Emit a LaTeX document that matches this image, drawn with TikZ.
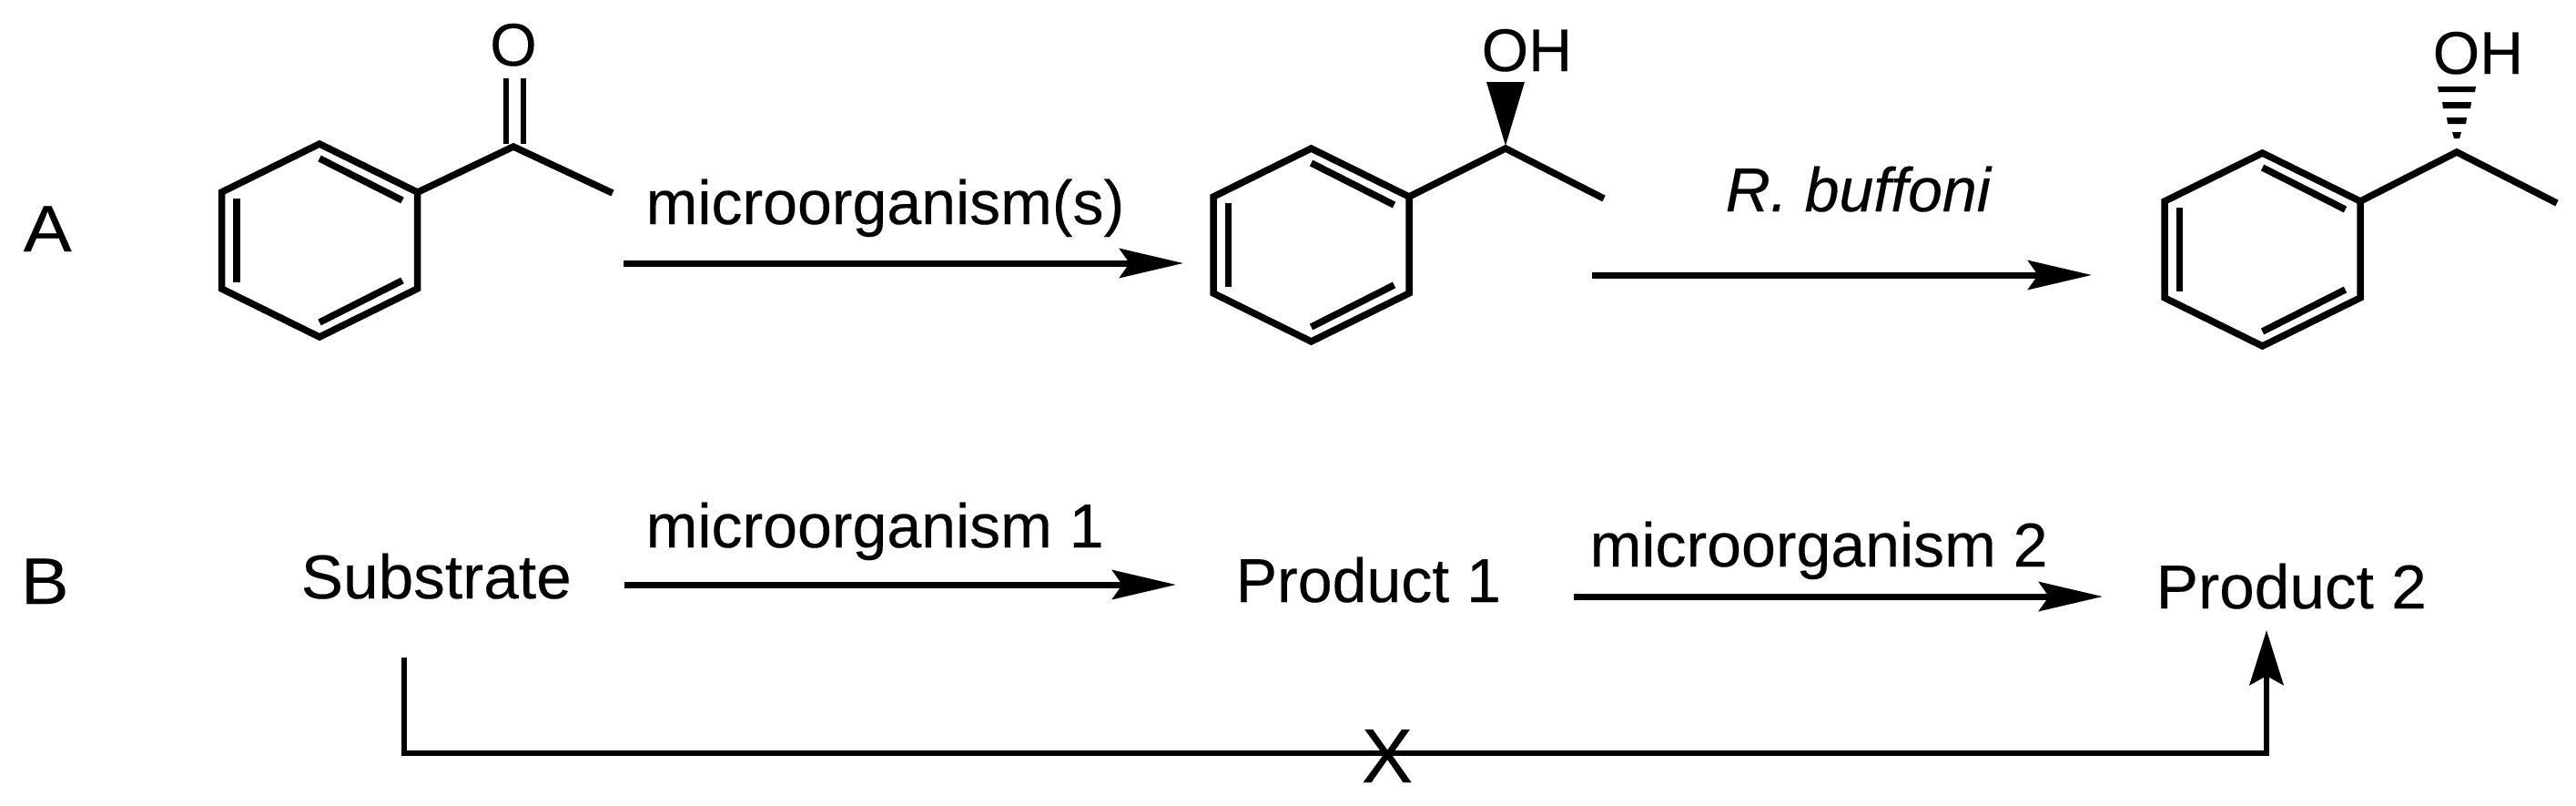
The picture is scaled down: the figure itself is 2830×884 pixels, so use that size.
\documentclass[tikz,border=0pt]{standalone}
\usepackage{fontspec}
\setmainfont{Liberation Sans}[FakeBold=0.25]
\usetikzlibrary{arrows.meta}
\newcommand{\benzene}[2]{%
  \begin{scope}[shift={(#1,#2)}]
    \draw[bond] (0,-106) -- (107.5,-53) -- (107.5,53) -- (0,106) -- (-107.5,53) -- (-107.5,-53) -- cycle;
    \draw[bond] (0,-90) -- (91,-44);
    \draw[bond] (91,44) -- (0,90);
    \draw[bond] (-91,-46) -- (-91,46);
  \end{scope}}
\tikzset{
  bond/.style={line width=0.075cm,line join=miter,line cap=butt,black},
  lbl/.style={font=\fontsize{19.35}{22}\selectfont,inner sep=0pt,anchor=base west,text=black},
  panel/.style={font=\fontsize{20.5}{24}\selectfont,inner sep=0pt,anchor=base west,text=black,xscale=1.1},
  atomlbl/.style={font=\fontsize{18.8}{22}\selectfont,inner sep=0pt,anchor=base west,text=black},
  crosslbl/.style={font=\fontsize{23.9}{26}\selectfont,inner sep=0pt,anchor=base,text=black},
  rxn/.style={line width=0.07cm,line cap=butt,black,-{Stealth[length=0.70cm,width=0.32cm,inset=0.11cm]}},
  blocked/.style={line width=0.065cm,line cap=butt,line join=miter,black,-{Stealth[length=0.60cm,width=0.37cm,inset=0.10cm]}}
}
\begin{document}
\begin{tikzpicture}[x=0.01cm,y=-0.01cm]
\useasboundingbox (0,0) rectangle (2830,884);
% panel labels
\node[panel] (A) at (25,276) {A};
\node[panel] (B) at (22,663) {B};
% scheme A, molecule 1
\benzene{351}{264}
\coordinate (c1) at (564,161);
\coordinate (r1) at (459,211);
\coordinate (m1) at (673,212);
\draw[bond] (r1) -- (c1) -- (m1);
\draw[line width=0.06cm] (556,86) -- (556,158);
\draw[line width=0.06cm] (575,86) -- (575,158);
\node[atomlbl,anchor=base] (O1) at (564,72) {O};
% arrow 1
\node[lbl] (t1) at (709,246) {microorganism(s)};
\coordinate (a1s) at (685,289);
\coordinate (a1e) at (1300,289);
\draw[rxn] (a1s) -- (a1e);
% molecule 2
\benzene{1440.5}{269}
\coordinate (c2) at (1654,163);
\coordinate (r2) at (1548,216);
\coordinate (m2) at (1762,218);
\draw[bond] (r2) -- (c2) -- (m2);
\fill (1654,160) -- (1633,90) -- (1675,90) -- cycle;
\node[atomlbl] (O2) at (1627,78) {OH};
% arrow 2
\node[lbl] (t2) at (1895,232) {\itshape R. buffoni};
\coordinate (a2s) at (1749,302);
\coordinate (a2e) at (2298,302);
\draw[rxn] (a2s) -- (a2e);
% molecule 3
\benzene{2485.5}{274}
\coordinate (c3) at (2699,167);
\coordinate (r3) at (2593,221);
\coordinate (m3) at (2809,223);
\draw[bond] (r3) -- (c3) -- (m3);
\fill (2678,95) -- (2720,95) -- (2719,101) -- (2679,101) -- cycle;
\fill (2683,112) -- (2715,112) -- (2714,119) -- (2684,119) -- cycle;
\fill (2688,129) -- (2710,129) -- (2709,136) -- (2689,136) -- cycle;
\fill (2694,145) -- (2704,145) -- (2702,152) -- (2696,152) -- cycle;
\node[atomlbl] (O3) at (2672,81) {OH};
% scheme B
\node[lbl,xscale=1.02] (sub) at (330,657) {Substrate};
\node[lbl] (p1) at (1357,661) {Product 1};
\node[lbl,xscale=1.02] (p2) at (2368,668) {Product 2};
\node[lbl] (t3) at (709,601) {microorganism 1};
\node[lbl] (t4) at (1746,622) {microorganism 2};
\coordinate (b1s) at (686,642);
\coordinate (b1e) at (1292,642);
\draw[rxn] (b1s) -- (b1e);
\coordinate (b2s) at (1729,655);
\coordinate (b2e) at (2310,655);
\draw[rxn] (b2s) -- (b2e);
\coordinate (ls) at (444,722);
\coordinate (lc) at (444,827);
\coordinate (rc) at (2490,827);
\coordinate (le) at (2490,692);
\draw[blocked] (ls) -- (lc) -- (rc) -- (le);
\node[crosslbl] (X) at (1524,859) {X};
\end{tikzpicture}
\end{document}
